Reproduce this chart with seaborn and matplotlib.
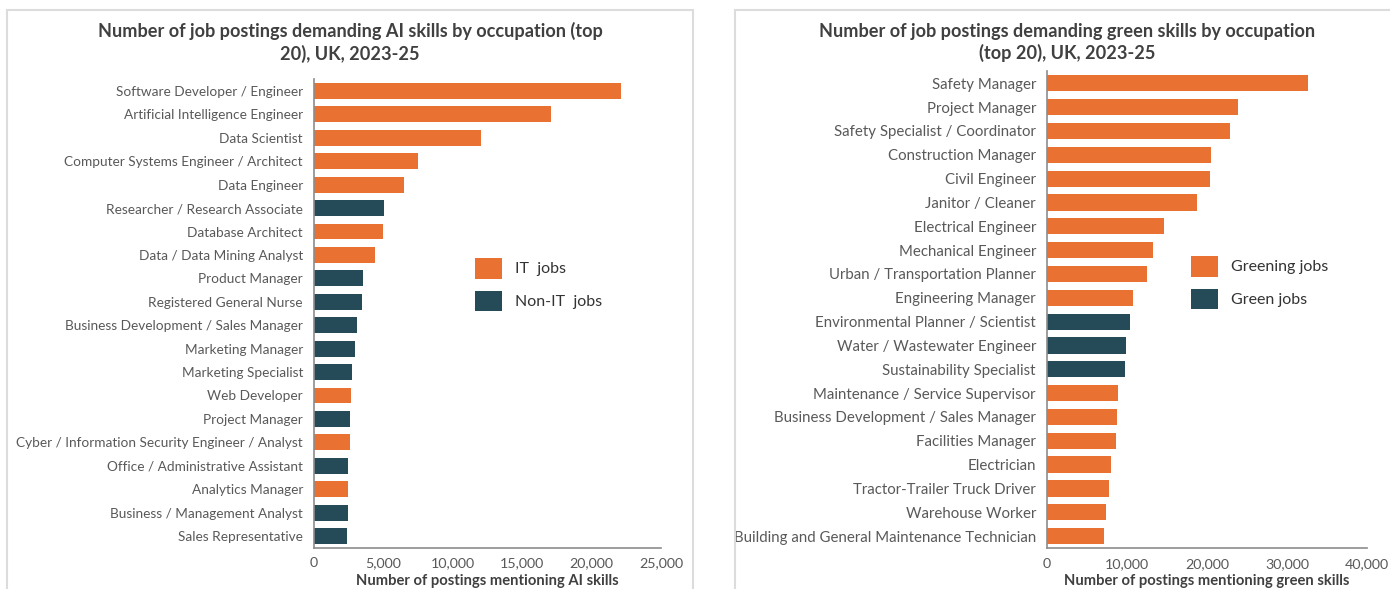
import matplotlib
matplotlib.use("Agg")
import matplotlib.pyplot as plt
from matplotlib.patches import Rectangle, Patch
from matplotlib.ticker import FuncFormatter
import pandas as pd
import seaborn as sns

# AI skills panel
ai_occupations = [
    "Software Developer / Engineer",
    "Artificial Intelligence Engineer",
    "Data Scientist",
    "Computer Systems Engineer / Architect",
    "Data Engineer",
    "Researcher / Research Associate",
    "Database Architect",
    "Data / Data Mining Analyst",
    "Product Manager",
    "Registered General Nurse",
    "Business Development / Sales Manager",
    "Marketing Manager",
    "Marketing Specialist",
    "Web Developer",
    "Project Manager",
    "Cyber / Information Security Engineer / Analyst",
    "Office / Administrative Assistant",
    "Analytics Manager",
    "Business / Management Analyst",
    "Sales Representative",
]
ai_postings = [22100, 17050, 12030, 7470, 6480, 5070, 4970, 4370, 3550, 3460,
               3070, 2930, 2760, 2690, 2620, 2610, 2480, 2470, 2470, 2400]
ai_group = ["IT  jobs", "IT  jobs", "IT  jobs", "IT  jobs", "IT  jobs",
            "Non-IT  jobs", "IT  jobs", "IT  jobs", "Non-IT  jobs", "Non-IT  jobs",
            "Non-IT  jobs", "Non-IT  jobs", "Non-IT  jobs", "IT  jobs", "Non-IT  jobs",
            "IT  jobs", "Non-IT  jobs", "IT  jobs", "Non-IT  jobs", "Non-IT  jobs"]
ai_groups = ["IT  jobs", "Non-IT  jobs"]

# Green skills panel
green_occupations = [
    "Safety Manager",
    "Project Manager",
    "Safety Specialist / Coordinator",
    "Construction Manager",
    "Civil Engineer",
    "Janitor / Cleaner",
    "Electrical Engineer",
    "Mechanical Engineer",
    "Urban / Transportation Planner",
    "Engineering Manager",
    "Environmental Planner / Scientist",
    "Water / Wastewater Engineer",
    "Sustainability Specialist",
    "Maintenance / Service Supervisor",
    "Business Development / Sales Manager",
    "Facilities Manager",
    "Electrician",
    "Tractor-Trailer Truck Driver",
    "Warehouse Worker",
    "Building and General Maintenance Technician",
]
green_postings = [32630, 23900, 22860, 20480, 20350, 18720, 14620, 13210, 12530, 10700,
                  10400, 9900, 9740, 8820, 8700, 8570, 8020, 7770, 7390, 7100]
green_group = ["Greening jobs"] * 10 + ["Green jobs"] * 3 + ["Greening jobs"] * 7
green_groups = ["Greening jobs", "Green jobs"]

ORANGE = "#E97132"
NAVY = "#254A58"
TEXT = "#595959"
TITLE = "#404040"

sns.set_theme(style="white")
plt.rcParams["font.family"] = ["Lato", "DejaVu Sans"]

W, H = 1390, 589
fig = plt.figure(figsize=(W / 100, H / 100), dpi=100)
fig.patch.set_facecolor("white")

# panel frames
for x0, x1 in [(7, 693), (735, 1420)]:
    fig.patches.append(Rectangle((x0 / W, -0.1), (x1 - x0) / W, (H - 10) / H + 0.1,
                                 transform=fig.transFigure, fill=False,
                                 edgecolor="#DCDCDC", linewidth=1.5))

def px_axes(left, right, top, bottom):
    return fig.add_axes([left / W, 1 - bottom / H, (right - left) / W, (bottom - top) / H])

def draw_panel(ax, occ, vals, grp, groups, xmax, step, xlabel, legend_anchor,
               ysize, bottom_px, top_px):
    df = pd.DataFrame({"occupation": occ, "postings": vals, "group": grp})
    sns.barplot(data=df, x="postings", y="occupation", hue="group", hue_order=groups,
                palette=[ORANGE, NAVY], dodge=False, width=0.68, ax=ax,
                saturation=1, linewidth=0)
    ax.set_xlim(0, xmax)
    ax.set_ylim(len(occ) - 0.5, -0.5)
    ax.set_xticks(range(0, xmax + 1, step))
    ax.xaxis.set_major_formatter(FuncFormatter(lambda v, p: f"{int(v):,}"))
    ax.tick_params(axis="both", length=0, colors=TEXT)
    ax.tick_params(axis="y", pad=8, labelsize=ysize)
    ax.tick_params(axis="x", pad=7, labelsize=10.3)
    ax.set_ylabel("")
    ax.set_xlabel(xlabel, fontsize=10.6, fontweight="bold", color=TITLE, va="bottom")
    # keep the axis title just inside the bottom edge of the figure
    ax.xaxis.set_label_coords(0.5, (bottom_px - 588.5) / (bottom_px - top_px))
    for side in ["top", "right"]:
        ax.spines[side].set_visible(False)
    for side in ["left", "bottom"]:
        ax.spines[side].set_color("#8C8C8C")
        ax.spines[side].set_linewidth(1.2)
    ax.legend_.remove()
    handles = [Patch(facecolor=ORANGE, edgecolor="none"), Patch(facecolor=NAVY, edgecolor="none")]
    ax.legend(handles, groups, loc="upper left", bbox_to_anchor=legend_anchor,
              bbox_transform=fig.transFigure, frameon=False, fontsize=11.5,
              handlelength=1.7, handleheight=1.6, handletextpad=0.8,
              labelspacing=0.75, labelcolor="#333333", borderaxespad=0, borderpad=0)

ax1 = px_axes(314, 661, 79.3, 547.7)
draw_panel(ax1, ai_occupations, ai_postings, ai_group, ai_groups, 25000, 5000,
           "Number of postings mentioning AI skills", (475 / W, 1 - 258 / H),
           9.8, 547.7, 79.3)

ax2 = px_axes(1047, 1367, 71.4, 548)
draw_panel(ax2, green_occupations, green_postings, green_group, green_groups, 40000, 10000,
           "Number of postings mentioning green skills", (1191 / W, 1 - 256 / H),
           10.8, 548, 71.4)

fig.text(350 / W, 1 - 42.5 / H,
         "Number of job postings demanding AI skills by occupation (top\n20), UK, 2023-25",
         ha="center", va="center", fontsize=13.1, fontweight="bold", color=TITLE,
         linespacing=1.3)
fig.text(1067 / W, 1 - 42.5 / H,
         "Number of job postings demanding green skills by occupation\n(top 20), UK, 2023-25",
         ha="center", va="center", fontsize=13.1, fontweight="bold", color=TITLE,
         linespacing=1.3)

fig.savefig("out.png", dpi=100, facecolor="white")
